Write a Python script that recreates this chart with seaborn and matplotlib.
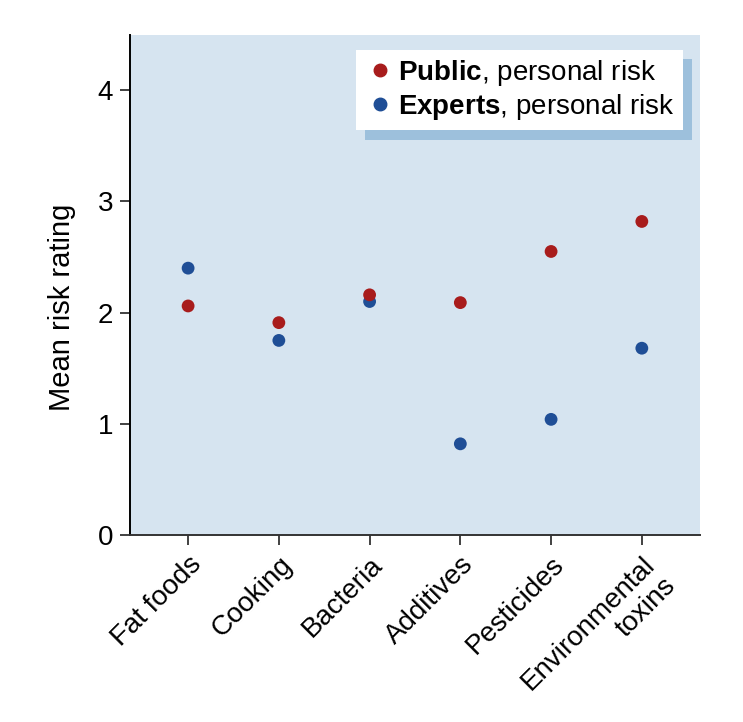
import matplotlib
import pandas as pd
import seaborn as sns
from matplotlib import pyplot as plt
from matplotlib import patheffects as pe

matplotlib.use('agg')

categories = ["Fat foods", "Cooking", "Bacteria", "Additives", "Pesticides", "Environmental\ntoxins"]
public_risk = [2.06, 1.91, 2.16, 2.09, 2.55, 2.82]
expert_risk = [2.40, 1.75, 2.10, 0.82, 1.04, 1.68]
groups = ["Public", "Experts"]
y_ticks = [0, 1, 2, 3, 4]

colors = {"Public": "#a81c1c", "Experts": "#1f4e96"}

sns.set_theme(style="white")
plt.rcParams['font.family'] = ['Liberation Sans', 'DejaVu Sans']
plt.rcParams['mathtext.fontset'] = 'custom'
plt.rcParams['mathtext.bf'] = 'Liberation Sans:bold'
plt.rcParams['mathtext.rm'] = 'Liberation Sans'
plt.rcParams['text.color'] = 'black'
plt.rcParams['axes.labelcolor'] = 'black'
plt.rcParams['xtick.color'] = 'black'
plt.rcParams['ytick.color'] = 'black'

df = pd.DataFrame({
    "category": categories * 2,
    "pos": list(range(len(categories))) * 2,
    "rating": public_risk + expert_risk,
    "group": [groups[0]] * len(categories) + [groups[1]] * len(categories),
})

fig, ax = plt.subplots(figsize=(7.43, 7.22), dpi=100)
fig.subplots_adjust(left=0.175, right=0.942, top=0.952, bottom=0.259)
ax.set_facecolor("#d6e4f0")

# experts first so public dots sit on top where they overlap
order = df.sort_values("group").reset_index(drop=True)
sns.scatterplot(data=order, x="pos", y="rating", hue="group", palette=colors,
                s=85, linewidth=0, ax=ax, legend=False, zorder=3)

ax.set_xlim(-0.64, 5.64)
ax.set_ylim(0, 4.5)
ax.set_yticks(y_ticks)
ax.set_xticks(range(len(categories)))
ax.set_xticklabels(categories, rotation=45, ha="right", rotation_mode="anchor",
                   multialignment="right")
ax.set_xlabel("")
ax.set_ylabel("Mean risk rating", fontsize=21)
ax.yaxis.set_label_coords(-0.095, 0.455)
ax.tick_params(axis="both", labelsize=20, length=7, width=1.3, color="#333333",
               direction="out", left=True, bottom=True, pad=5)

for side in ["top", "right"]:
    ax.spines[side].set_visible(False)
ax.spines["left"].set_color("black")
ax.spines["left"].set_linewidth(1.4)
ax.spines["bottom"].set_color("#333333")
ax.spines["bottom"].set_linewidth(1.4)

handles = [plt.Line2D([], [], marker="o", ls="", color=colors[g], markersize=9) for g in groups]
labels = [r"$\bf{Public}$, personal risk", r"$\bf{Experts}$, personal risk"]
leg = ax.legend(handles, labels, loc="upper right", bbox_to_anchor=(0.970, 0.970),
                borderaxespad=0, fontsize=20, frameon=True, fancybox=False, framealpha=1,
                handletextpad=0.1, handlelength=1.1, borderpad=0.3, labelspacing=0.15)
frame = leg.get_frame()
frame.set_facecolor("white")
frame.set_edgecolor("none")
frame.set_path_effects([pe.SimplePatchShadow(offset=(6.5, -6.5), shadow_rgbFace="#9dc0dc", alpha=1),
                        pe.Normal()])

fig.savefig("out.png", dpi=100)
